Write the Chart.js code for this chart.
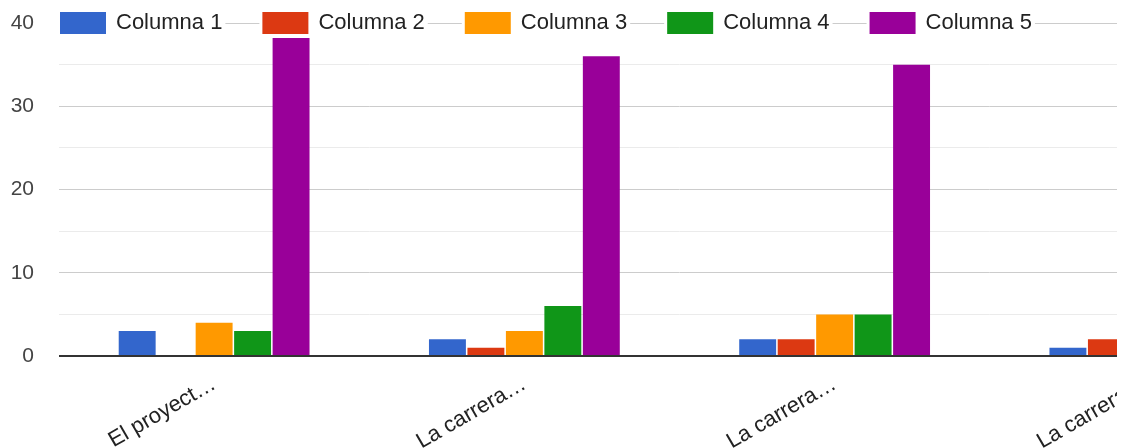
<!DOCTYPE html>
<html>
<head>
<meta charset="utf-8">
<script src="https://cdn.jsdelivr.net/npm/chart.js@4"></script>
<style>
  html, body { margin:0; padding:0; background:#fff; overflow:hidden; }
  #wrap { width:1117px; height:448px; overflow:hidden; position:relative; }
  canvas { display:block; }
</style>
</head>
<body>
<div id="wrap"><canvas id="chart" width="1300" height="448"></canvas></div>
<script>
const categories = ["El proyect…", "La carrera…", "La carrera…", "La carrera…"];
const seriesNames = ["Columna 1", "Columna 2", "Columna 3", "Columna 4", "Columna 5"];
const col1 = [3, 2, 2, 1];
const col2 = [0, 1, 2, 2];
const col3 = [4, 3, 5, null];
const col4 = [3, 6, 5, null];
const col5 = [39, 36, 35, null];
const yTicks = [0, 10, 20, 30, 40];

const colors = ["#3366cc", "#dc3912", "#ff9900", "#109618", "#990099"];
const FONT = "'Liberation Sans', Arial, sans-serif";

// legend drawn over the top gridline, google style
const topLegend = {
  id: "topLegend",
  afterDraw(chart){
    const ctx = chart.ctx;
    const y = chart.chartArea.top;
    ctx.save();
    ctx.font = "22px " + FONT;
    ctx.textBaseline = "middle";
    let x = 60;
    seriesNames.forEach((name, i) => {
      const w = ctx.measureText(name).width;
      ctx.fillStyle = "#fff";
      ctx.fillRect(x - 3, y - 15, 46 + 10 + w + 6, 30);
      ctx.fillStyle = colors[i];
      ctx.fillRect(x, y - 11, 46, 22);
      ctx.fillStyle = "#222";
      ctx.fillText(name, x + 56, y);
      x += 56 + w + 40;
    });
    ctx.restore();
  }
};

const data = [col1, col2, col3, col4, col5];

new Chart(document.getElementById("chart"), {
  type: "bar",
  data: {
    labels: categories,
    datasets: seriesNames.map((n, i) => ({
      label: n,
      data: data[i],
      backgroundColor: colors[i],
      borderWidth: 0
    }))
  },
  options: {
    responsive: false,
    animation: false,
    datasets: { bar: { categoryPercentage: 0.62, barPercentage: 0.96 } },
    layout: { padding: { top: 23, left: 0, right: 0, bottom: 0 } },
    plugins: { legend: { display: false }, tooltip: { enabled: false } },
    scales: {
      x: {
        afterFit: s => { s.height = 92; s.paddingLeft = 0; s.paddingRight = 0; },
        grid: { display: false, drawTicks: false },
        border: { display: false },
        ticks: {
          autoSkip: false,
          minRotation: 30, maxRotation: 30,
          padding: 15,
          color: "#222",
          font: { family: FONT, size: 22 }
        }
      },
      y: {
        min: 0, max: 40,
        afterFit: s => { s.width = 59; s.paddingTop = 0; s.paddingBottom = 0; },
        border: { display: false },
        grid: {
          drawTicks: false,
          color: c => c.tick.value === 0 ? "#333" : (c.tick.value % 10 === 0 ? "#cccccc" : "#ebebeb"),
          lineWidth: c => c.tick.value === 0 ? 2 : 1
        },
        ticks: {
          stepSize: 5,
          padding: 25,
          color: "#444",
          font: { family: FONT, size: 21 },
          callback: v => yTicks.includes(v) ? v : ""
        }
      }
    }
  },
  plugins: [topLegend]
});
</script>
</body>
</html>
